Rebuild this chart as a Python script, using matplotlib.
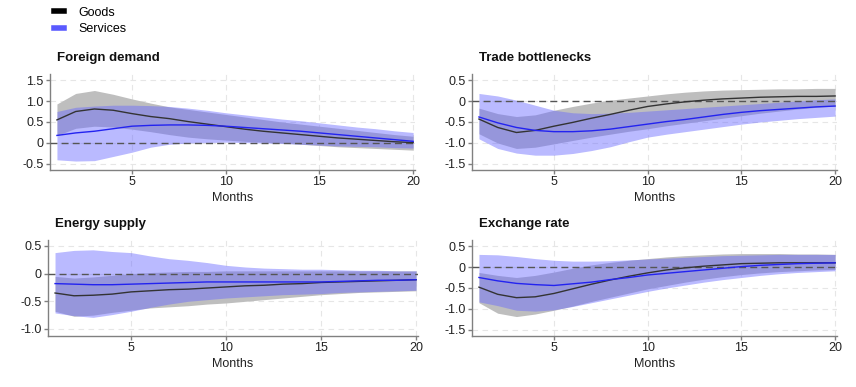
import numpy as np
import matplotlib
matplotlib.use("Agg")
import matplotlib.pyplot as plt
from matplotlib.lines import Line2D
from matplotlib.ticker import FuncFormatter

plt.rcParams['font.family'] = ['Liberation Sans', 'DejaVu Sans']

months = list(range(1, 21))

# Foreign demand
fd_goods = [0.55, 0.75, 0.81, 0.78, 0.70, 0.63, 0.58, 0.51, 0.45, 0.39, 0.33, 0.28, 0.24, 0.20, 0.16, 0.12, 0.09, 0.06, 0.03, 0.01]
fd_goods_hi = [0.93, 1.18, 1.25, 1.16, 1.05, 0.95, 0.86, 0.80, 0.74, 0.68, 0.62, 0.56, 0.50, 0.45, 0.40, 0.35, 0.30, 0.25, 0.20, 0.16]
fd_goods_lo = [0.18, 0.35, 0.40, 0.38, 0.33, 0.27, 0.20, 0.14, 0.10, 0.07, 0.04, 0.02, 0.00, -0.03, -0.06, -0.09, -0.11, -0.13, -0.15, -0.17]
fd_serv = [0.18, 0.24, 0.28, 0.34, 0.40, 0.42, 0.43, 0.43, 0.42, 0.40, 0.37, 0.34, 0.31, 0.28, 0.24, 0.20, 0.16, 0.12, 0.08, 0.04]
fd_serv_hi = [0.75, 0.85, 0.88, 0.90, 0.90, 0.89, 0.87, 0.83, 0.78, 0.72, 0.67, 0.62, 0.57, 0.53, 0.48, 0.43, 0.38, 0.34, 0.29, 0.25]
fd_serv_lo = [-0.40, -0.43, -0.42, -0.32, -0.22, -0.10, -0.03, 0.00, 0.01, 0.02, 0.01, 0.00, -0.01, -0.03, -0.05, -0.07, -0.08, -0.09, -0.11, -0.12]

# Trade bottlenecks
tb_goods = [-0.43, -0.63, -0.75, -0.70, -0.60, -0.51, -0.41, -0.32, -0.22, -0.13, -0.07, -0.02, 0.02, 0.05, 0.07, 0.09, 0.10, 0.11, 0.11, 0.12]
tb_goods_hi = [-0.17, -0.30, -0.37, -0.33, -0.22, -0.13, -0.05, 0.02, 0.07, 0.12, 0.17, 0.21, 0.24, 0.26, 0.27, 0.28, 0.29, 0.29, 0.30, 0.30]
tb_goods_lo = [-0.78, -1.00, -1.13, -1.10, -1.02, -0.94, -0.86, -0.79, -0.72, -0.66, -0.59, -0.53, -0.47, -0.41, -0.35, -0.29, -0.24, -0.19, -0.15, -0.12]
tb_serv = [-0.38, -0.52, -0.63, -0.70, -0.73, -0.73, -0.71, -0.67, -0.61, -0.55, -0.49, -0.44, -0.38, -0.32, -0.27, -0.23, -0.20, -0.17, -0.14, -0.12]
tb_serv_hi = [0.18, 0.12, 0.02, -0.10, -0.22, -0.28, -0.30, -0.29, -0.27, -0.24, -0.21, -0.18, -0.15, -0.12, -0.09, -0.06, -0.03, 0.00, 0.03, 0.05]
tb_serv_lo = [-0.90, -1.13, -1.24, -1.29, -1.29, -1.25, -1.18, -1.09, -0.97, -0.86, -0.79, -0.73, -0.67, -0.61, -0.55, -0.50, -0.46, -0.42, -0.39, -0.36]

# Energy supply
es_goods = [-0.35, -0.40, -0.39, -0.37, -0.33, -0.31, -0.29, -0.28, -0.26, -0.24, -0.22, -0.21, -0.19, -0.18, -0.16, -0.15, -0.14, -0.13, -0.12, -0.11]
es_goods_hi = [-0.05, -0.08, -0.06, -0.03, 0.00, 0.02, 0.03, 0.04, 0.04, 0.05, 0.05, 0.05, 0.05, 0.05, 0.05, 0.05, 0.05, 0.05, 0.05, 0.05]
es_goods_lo = [-0.68, -0.77, -0.75, -0.70, -0.66, -0.62, -0.60, -0.58, -0.55, -0.53, -0.50, -0.47, -0.44, -0.41, -0.38, -0.36, -0.34, -0.33, -0.32, -0.31]
es_serv = [-0.18, -0.19, -0.20, -0.20, -0.19, -0.18, -0.17, -0.16, -0.15, -0.15, -0.15, -0.15, -0.15, -0.15, -0.15, -0.14, -0.13, -0.12, -0.12, -0.11]
es_serv_hi = [0.38, 0.42, 0.43, 0.40, 0.38, 0.32, 0.27, 0.24, 0.20, 0.15, 0.12, 0.10, 0.09, 0.08, 0.08, 0.07, 0.06, 0.06, 0.05, 0.05]
es_serv_lo = [-0.71, -0.76, -0.79, -0.74, -0.68, -0.61, -0.55, -0.50, -0.47, -0.44, -0.42, -0.40, -0.38, -0.37, -0.36, -0.34, -0.33, -0.32, -0.31, -0.30]

# Exchange rate
er_goods = [-0.48, -0.65, -0.73, -0.71, -0.63, -0.52, -0.41, -0.31, -0.22, -0.14, -0.07, -0.02, 0.02, 0.05, 0.08, 0.09, 0.10, 0.10, 0.10, 0.10]
er_goods_hi = [-0.13, -0.20, -0.25, -0.20, -0.12, -0.03, 0.05, 0.11, 0.16, 0.20, 0.24, 0.27, 0.29, 0.31, 0.32, 0.32, 0.32, 0.31, 0.31, 0.30]
er_goods_lo = [-0.85, -1.10, -1.18, -1.12, -1.03, -0.93, -0.82, -0.72, -0.62, -0.52, -0.44, -0.36, -0.29, -0.23, -0.18, -0.14, -0.11, -0.09, -0.07, -0.06]
er_serv = [-0.25, -0.33, -0.39, -0.42, -0.44, -0.40, -0.36, -0.30, -0.25, -0.19, -0.15, -0.11, -0.07, -0.03, 0.01, 0.04, 0.06, 0.08, 0.09, 0.10]
er_serv_hi = [0.30, 0.29, 0.25, 0.20, 0.16, 0.14, 0.14, 0.15, 0.17, 0.19, 0.21, 0.23, 0.25, 0.27, 0.28, 0.29, 0.30, 0.30, 0.30, 0.30]
er_serv_lo = [-0.83, -0.92, -1.03, -1.05, -1.02, -0.94, -0.85, -0.76, -0.67, -0.58, -0.50, -0.43, -0.36, -0.30, -0.25, -0.20, -0.16, -0.13, -0.11, -0.09]

titles = ["Foreign demand", "Trade bottlenecks", "Energy supply", "Exchange rate"]
series_names = ["Goods", "Services"]

panels = [
    (fd_goods, fd_goods_lo, fd_goods_hi, fd_serv, fd_serv_lo, fd_serv_hi),
    (tb_goods, tb_goods_lo, tb_goods_hi, tb_serv, tb_serv_lo, tb_serv_hi),
    (es_goods, es_goods_lo, es_goods_hi, es_serv, es_serv_lo, es_serv_hi),
    (er_goods, er_goods_lo, er_goods_hi, er_serv, er_serv_lo, er_serv_hi),
]
yticks = [[-0.5, 0, 0.5, 1.0, 1.5], [-1.5, -1.0, -0.5, 0, 0.5],
          [-1.0, -0.5, 0, 0.5], [-1.5, -1.0, -0.5, 0, 0.5]]
ylims = [(-0.643, 1.643), (-1.643, 0.643), (-1.127, 0.608), (-1.643, 0.643)]

W, H = 856, 387
fig = plt.figure(figsize=(W / 100, H / 100), dpi=100)

# axes boxes in pixels: left, top, right, bottom
boxes = [(50, 74, 415, 170), (472, 74, 837, 170), (48, 240, 418, 336), (472, 240, 837, 336)]

GREY_FILL = '#bebebe'
BLUE_FILL = (102 / 255, 102 / 255, 1.0, 0.45)
GOODS_COL = '#333333'
SERV_COL = '#2323f0'

def fmt(v, pos):
    if abs(v) < 1e-9:
        return '0'
    return f'{v:.1f}'

for i, (box, data) in enumerate(zip(boxes, panels)):
    l, t, r, b = box
    ax = fig.add_axes([l / W, 1 - b / H, (r - l) / W, (b - t) / H])
    g, glo, ghi, s, slo, shi = data
    ax.grid(True, ls=(0, (5, 4)), color='#e6e6e6', lw=0.8)
    ax.set_axisbelow(True)
    ax.fill_between(months, glo, ghi, color=GREY_FILL, lw=0, zorder=2)
    ax.fill_between(months, slo, shi, color=BLUE_FILL, lw=0, zorder=3)
    ax.axhline(0, ls=(0, (5, 3)), color='#555555', lw=1, zorder=4)
    ax.plot(months, g, color=GOODS_COL, lw=1, zorder=5)
    ax.plot(months, s, color=SERV_COL, lw=1, zorder=6)
    ax.set_xlim(0.63, 20.1)
    ax.set_ylim(*ylims[i])
    ax.set_xticks([5, 10, 15, 20])
    ax.set_yticks(yticks[i])
    ax.yaxis.set_major_formatter(FuncFormatter(fmt))
    for sp in ['top', 'right']:
        ax.spines[sp].set_visible(False)
    for sp in ['left', 'bottom']:
        ax.spines[sp].set_color('#808080')
        ax.spines[sp].set_linewidth(1)
    ax.tick_params(axis='both', colors='#808080', labelcolor='#222222', labelsize=9,
                   length=3, width=1, pad=1.5)
    ax.set_xlabel('Months', fontsize=9, color='#222222', labelpad=2.5)
    ax.text(7 / (r - l), (b - (t - 16)) / (b - t), titles[i], transform=ax.transAxes,
            fontsize=9.5, fontweight='bold', color='#111111', va='center', ha='left')

handles = [Line2D([], [], color='black', lw=4),
           Line2D([], [], color='#5a5aff', lw=4)]
fig.legend(handles, series_names, loc='upper left', bbox_to_anchor=(50 / W, 1 - 3 / H),
           frameon=False, fontsize=9, handlelength=0.8, handletextpad=1.2,
           labelspacing=0.35, borderaxespad=0, borderpad=0.3)

fig.savefig('out.png', dpi=100)
